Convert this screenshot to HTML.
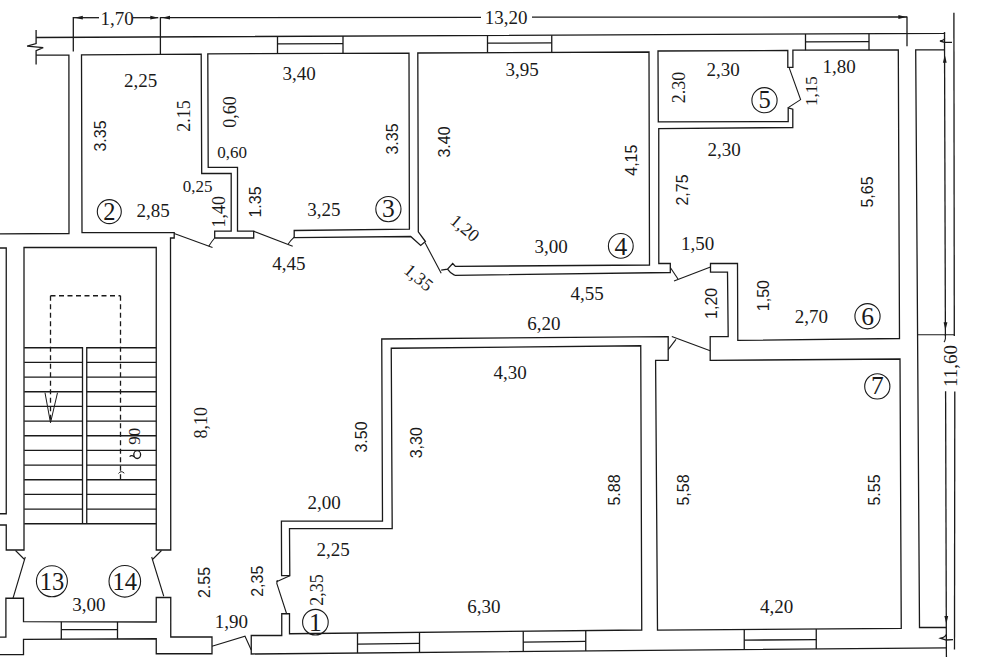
<!DOCTYPE html>
<html><head><meta charset="utf-8"><style>
html,body{margin:0;padding:0;background:#fff;width:1000px;height:667px;overflow:hidden}
svg{display:block}
</style></head><body>
<svg width="1000" height="667" viewBox="0 0 1000 667">
<rect width="1000" height="667" fill="#fff"/>
<line x1="73.30" y1="17.70" x2="99.00" y2="17.70" stroke="#1a1a1a" stroke-width="1.3"/>
<line x1="133.00" y1="17.70" x2="158.30" y2="17.70" stroke="#1a1a1a" stroke-width="1.3"/>
<line x1="160.40" y1="17.70" x2="481.00" y2="17.40" stroke="#1a1a1a" stroke-width="1.3"/>
<line x1="532.00" y1="17.20" x2="907.00" y2="17.00" stroke="#1a1a1a" stroke-width="1.3"/>
<line x1="73.30" y1="17.10" x2="73.30" y2="51.50" stroke="#1a1a1a" stroke-width="1.3"/>
<line x1="160.40" y1="17.10" x2="160.40" y2="54.50" stroke="#1a1a1a" stroke-width="1.3"/>
<line x1="907.00" y1="16.40" x2="907.00" y2="46.20" stroke="#1a1a1a" stroke-width="1.3"/>
<polygon points="74.80,17.70 82.80,15.80 82.80,19.60" fill="#1a1a1a" stroke="none"/>
<polygon points="158.30,17.70 150.30,19.60 150.30,15.80" fill="#1a1a1a" stroke="none"/>
<polygon points="162.00,17.70 170.00,15.80 170.00,19.60" fill="#1a1a1a" stroke="none"/>
<polygon points="906.40,17.00 898.40,18.90 898.40,15.10" fill="#1a1a1a" stroke="none"/>
<g transform="translate(117.00,18.50) rotate(0)"><text x="0" y="6.27" text-anchor="middle" font-family='"Liberation Serif", serif' font-size="19" fill="#1a1a1a">1,70</text></g>
<g transform="translate(506.00,17.50) rotate(0)"><text x="0" y="6.27" text-anchor="middle" font-family='"Liberation Serif", serif' font-size="19" fill="#1a1a1a">13,20</text></g>
<path d="M36.1,30.1 V43.6 L27.1,46.2 L43.2,47.6 L36.1,50.7 V64.6" fill="none" stroke="#1a1a1a" stroke-width="1.3"/>
<polyline points="36.10,37.50 944.50,33.40 944.50,32.20" fill="none" stroke="#1a1a1a" stroke-width="1.3" stroke-linejoin="miter"/>
<polyline points="36.10,55.20 68.90,55.20 69.00,233.50 0.00,233.90" fill="none" stroke="#1a1a1a" stroke-width="1.3" stroke-linejoin="miter"/>
<polyline points="214.70,238.00 214.70,231.20 231.20,231.20 231.20,173.50 201.70,173.50 201.20,54.20 81.50,54.90 82.00,232.70 174.20,232.70 174.20,238.00 170.50,238.00 170.75,550.00 156.25,550.00 156.25,247.50 24.00,247.50 24.00,550.00 6.25,550.00 6.25,525.00 0.00,525.00" fill="none" stroke="#1a1a1a" stroke-width="1.3" stroke-linejoin="miter"/>
<polyline points="0.00,248.00 6.25,248.00 6.25,513.75 0.00,513.75" fill="none" stroke="#1a1a1a" stroke-width="1.3" stroke-linejoin="miter"/>
<polyline points="214.70,238.00 253.70,238.00 253.70,231.20 237.50,231.20 237.50,167.30 208.20,167.30 207.80,53.80 409.00,53.20 409.40,229.20 294.20,230.50 294.20,237.70 410.70,236.50 420.70,245.40 425.40,241.50 418.30,231.80 417.80,53.00 649.00,52.00 649.50,265.00 455.40,266.40 452.70,263.50 447.50,269.10 441.20,270.10" fill="none" stroke="#1a1a1a" stroke-width="1.3" stroke-linejoin="miter"/>
<path d="M447.5,269.1 Q450,273 454.8,275.4" fill="none" stroke="#1a1a1a" stroke-width="1.2"/>
<polyline points="454.80,275.40 670.30,272.50 670.30,263.50 658.80,263.50 658.75,128.60 792.80,127.50 792.80,109.20 788.20,107.80 788.20,121.50 658.30,121.80 658.00,51.00 787.80,50.50 787.80,67.40 792.90,67.40 792.90,50.20 898.30,50.00 899.50,338.50 737.80,340.40 737.50,263.50 710.50,263.50 710.50,272.20 727.50,272.20 728.20,336.60 710.20,336.60 710.20,360.40 900.00,359.00 901.25,628.30 657.50,630.20 655.60,360.40 668.20,360.40 668.20,336.60 381.75,339.00 382.50,521.20 281.40,521.20 281.60,575.70 289.80,575.70 289.50,528.60 392.20,528.60 391.25,348.25 640.75,345.75 641.75,630.00 289.50,633.75 289.50,613.75 281.75,613.75 281.75,635.50 251.25,635.50 251.25,654.00 946.40,647.80" fill="none" stroke="#1a1a1a" stroke-width="1.3" stroke-linejoin="miter"/>
<polyline points="944.50,49.90 915.70,49.90 919.50,627.50 946.40,627.50" fill="none" stroke="#1a1a1a" stroke-width="1.3" stroke-linejoin="miter"/>
<line x1="944.50" y1="32.20" x2="945.40" y2="336.00" stroke="#1a1a1a" stroke-width="1.3"/>
<line x1="945.60" y1="391.30" x2="946.40" y2="657.00" stroke="#1a1a1a" stroke-width="1.3"/>
<line x1="953.90" y1="12.80" x2="954.30" y2="336.00" stroke="#1a1a1a" stroke-width="1.3"/>
<line x1="954.80" y1="391.50" x2="954.50" y2="649.50" stroke="#1a1a1a" stroke-width="1.3"/>
<polygon points="944.80,54.70 946.70,62.70 942.90,62.70" fill="#1a1a1a" stroke="none"/>
<polygon points="945.50,330.30 943.60,322.30 947.40,322.30" fill="#1a1a1a" stroke="none"/>
<polygon points="946.30,624.10 944.40,616.10 948.20,616.10" fill="#1a1a1a" stroke="none"/>
<path d="M944.6,38.5 Q944.5,40 940,41 L944.6,42.3 L952,42.4" fill="none" stroke="#1a1a1a" stroke-width="1.3"/>
<path d="M946,634.5 Q946,636.8 940.6,638.2 L946.2,640 L953,639.6" fill="none" stroke="#1a1a1a" stroke-width="1.3"/>
<g transform="translate(950.90,366.00) rotate(-90)"><text x="0" y="6.27" text-anchor="middle" font-family='"Liberation Serif", serif' font-size="19" fill="#1a1a1a">11,60</text></g>
<line x1="917.10" y1="334.80" x2="954.70" y2="334.80" stroke="#1a1a1a" stroke-width="1.1"/>
<path d="M945.4,334.8 V338.6 Q945,341 944,342" fill="none" stroke="#1a1a1a" stroke-width="1.1"/>
<line x1="277.50" y1="36.41" x2="277.50" y2="53.59" stroke="#1a1a1a" stroke-width="1.3"/>
<line x1="343.00" y1="36.11" x2="343.00" y2="53.40" stroke="#1a1a1a" stroke-width="1.3"/>
<line x1="277.50" y1="43.80" x2="343.00" y2="43.55" stroke="#1a1a1a" stroke-width="1.3"/>
<line x1="487.50" y1="35.46" x2="487.50" y2="52.70" stroke="#1a1a1a" stroke-width="1.3"/>
<line x1="551.75" y1="35.17" x2="551.75" y2="52.42" stroke="#1a1a1a" stroke-width="1.3"/>
<line x1="487.50" y1="43.22" x2="551.75" y2="42.93" stroke="#1a1a1a" stroke-width="1.3"/>
<line x1="805.50" y1="34.03" x2="805.50" y2="50.18" stroke="#1a1a1a" stroke-width="1.3"/>
<line x1="869.00" y1="33.74" x2="869.00" y2="50.06" stroke="#1a1a1a" stroke-width="1.3"/>
<line x1="805.50" y1="41.78" x2="869.00" y2="41.57" stroke="#1a1a1a" stroke-width="1.3"/>
<line x1="61.30" y1="639.14" x2="61.30" y2="621.79" stroke="#1a1a1a" stroke-width="1.3"/>
<line x1="117.50" y1="638.91" x2="117.50" y2="621.91" stroke="#1a1a1a" stroke-width="1.3"/>
<line x1="61.30" y1="629.60" x2="117.50" y2="629.56" stroke="#1a1a1a" stroke-width="1.3"/>
<line x1="357.50" y1="653.05" x2="357.50" y2="633.03" stroke="#1a1a1a" stroke-width="1.3"/>
<line x1="419.50" y1="652.50" x2="419.50" y2="632.37" stroke="#1a1a1a" stroke-width="1.3"/>
<line x1="357.50" y1="644.04" x2="419.50" y2="643.44" stroke="#1a1a1a" stroke-width="1.3"/>
<line x1="523.25" y1="651.57" x2="523.25" y2="631.26" stroke="#1a1a1a" stroke-width="1.3"/>
<line x1="585.75" y1="651.02" x2="585.75" y2="630.60" stroke="#1a1a1a" stroke-width="1.3"/>
<line x1="523.25" y1="642.03" x2="585.75" y2="641.42" stroke="#1a1a1a" stroke-width="1.3"/>
<line x1="744.25" y1="649.60" x2="744.25" y2="629.52" stroke="#1a1a1a" stroke-width="1.3"/>
<line x1="816.25" y1="648.96" x2="816.25" y2="628.96" stroke="#1a1a1a" stroke-width="1.3"/>
<line x1="744.25" y1="640.17" x2="816.25" y2="639.56" stroke="#1a1a1a" stroke-width="1.3"/>
<polyline points="24.25,347.75 82.50,347.75 82.50,523.75" fill="none" stroke="#1a1a1a" stroke-width="1.3" stroke-linejoin="miter"/>
<polyline points="86.75,523.75 86.75,347.75 156.25,347.75" fill="none" stroke="#1a1a1a" stroke-width="1.3" stroke-linejoin="miter"/>
<line x1="24.25" y1="523.75" x2="156.25" y2="523.75" stroke="#1a1a1a" stroke-width="1.3"/>
<line x1="24.25" y1="362.42" x2="82.50" y2="362.42" stroke="#1a1a1a" stroke-width="1.3"/>
<line x1="86.75" y1="362.42" x2="156.25" y2="362.42" stroke="#1a1a1a" stroke-width="1.3"/>
<line x1="24.25" y1="377.08" x2="82.50" y2="377.08" stroke="#1a1a1a" stroke-width="1.3"/>
<line x1="86.75" y1="377.08" x2="156.25" y2="377.08" stroke="#1a1a1a" stroke-width="1.3"/>
<line x1="24.25" y1="391.75" x2="82.50" y2="391.75" stroke="#1a1a1a" stroke-width="1.3"/>
<line x1="86.75" y1="391.75" x2="156.25" y2="391.75" stroke="#1a1a1a" stroke-width="1.3"/>
<line x1="24.25" y1="406.42" x2="82.50" y2="406.42" stroke="#1a1a1a" stroke-width="1.3"/>
<line x1="86.75" y1="406.42" x2="156.25" y2="406.42" stroke="#1a1a1a" stroke-width="1.3"/>
<line x1="24.25" y1="421.08" x2="82.50" y2="421.08" stroke="#1a1a1a" stroke-width="1.3"/>
<line x1="86.75" y1="421.08" x2="156.25" y2="421.08" stroke="#1a1a1a" stroke-width="1.3"/>
<line x1="24.25" y1="435.75" x2="82.50" y2="435.75" stroke="#1a1a1a" stroke-width="1.3"/>
<line x1="86.75" y1="435.75" x2="156.25" y2="435.75" stroke="#1a1a1a" stroke-width="1.3"/>
<line x1="24.25" y1="450.42" x2="82.50" y2="450.42" stroke="#1a1a1a" stroke-width="1.3"/>
<line x1="86.75" y1="450.42" x2="156.25" y2="450.42" stroke="#1a1a1a" stroke-width="1.3"/>
<line x1="24.25" y1="465.09" x2="82.50" y2="465.09" stroke="#1a1a1a" stroke-width="1.3"/>
<line x1="86.75" y1="465.09" x2="156.25" y2="465.09" stroke="#1a1a1a" stroke-width="1.3"/>
<line x1="24.25" y1="479.75" x2="82.50" y2="479.75" stroke="#1a1a1a" stroke-width="1.3"/>
<line x1="86.75" y1="479.75" x2="156.25" y2="479.75" stroke="#1a1a1a" stroke-width="1.3"/>
<line x1="24.25" y1="494.42" x2="82.50" y2="494.42" stroke="#1a1a1a" stroke-width="1.3"/>
<line x1="86.75" y1="494.42" x2="156.25" y2="494.42" stroke="#1a1a1a" stroke-width="1.3"/>
<line x1="24.25" y1="509.09" x2="82.50" y2="509.09" stroke="#1a1a1a" stroke-width="1.3"/>
<line x1="86.75" y1="509.09" x2="156.25" y2="509.09" stroke="#1a1a1a" stroke-width="1.3"/>
<line x1="50.50" y1="295.75" x2="120.50" y2="295.75" stroke="#1a1a1a" stroke-width="1.3" stroke-dasharray="5,3.5"/>
<line x1="50.50" y1="295.75" x2="50.50" y2="422.75" stroke="#1a1a1a" stroke-width="1.3" stroke-dasharray="5,3.5"/>
<line x1="120.50" y1="295.75" x2="120.50" y2="481.50" stroke="#1a1a1a" stroke-width="1.3" stroke-dasharray="5,3.5"/>
<polyline points="45.00,392.75 50.50,422.75 57.50,392.75" fill="none" stroke="#1a1a1a" stroke-width="1.0" stroke-linejoin="miter"/>
<polyline points="0.00,637.10 5.90,637.10 5.90,598.25 23.50,598.25 23.50,621.70 156.25,622.00 156.25,597.50 170.75,597.50 170.75,637.00 212.00,637.00 212.00,653.75 156.25,653.75 156.25,638.75 23.50,639.30 23.50,654.60 0.00,654.60" fill="none" stroke="#1a1a1a" stroke-width="1.3" stroke-linejoin="miter"/>
<path d="M15.5,550.5 L24.5,559.5 M25.3,557 L23.8,562 L13,598.25" fill="none" stroke="#1a1a1a" stroke-width="1.1"/>
<path d="M161.5,550.5 L152.5,559.5 M151.7,557 L153.2,562 L163.75,596.25" fill="none" stroke="#1a1a1a" stroke-width="1.1"/>
<path d="M212,646.25 L245,636.25 L251.25,650" fill="none" stroke="#1a1a1a" stroke-width="1.1"/>
<path d="M174.2,233.5 L212.5,247.4" fill="none" stroke="#1a1a1a" stroke-width="1.1"/>
<path d="M214.7,238 Q212,241 208.7,246.2" fill="none" stroke="#1a1a1a" stroke-width="1.1"/>
<path d="M253.7,231.2 L292.7,246.2" fill="none" stroke="#1a1a1a" stroke-width="1.1"/>
<path d="M294.2,237.2 Q291,240 288.2,244" fill="none" stroke="#1a1a1a" stroke-width="1.1"/>
<path d="M424.9,242.5 L441.2,273.3" fill="none" stroke="#1a1a1a" stroke-width="1.1"/>
<path d="M670.3,267.5 L678,279" fill="none" stroke="#1a1a1a" stroke-width="1.1"/>
<path d="M674,281 L710.5,267" fill="none" stroke="#1a1a1a" stroke-width="1.1"/>
<path d="M668.2,349.6 L676,339.4" fill="none" stroke="#1a1a1a" stroke-width="1.1"/>
<path d="M671.8,336.4 L710.2,350.8" fill="none" stroke="#1a1a1a" stroke-width="1.1"/>
<path d="M788.2,107.6 L800.6,99.6 L789.3,68.1" fill="none" stroke="#1a1a1a" stroke-width="1.1"/>
<path d="M289.8,575.7 L276.5,581.7" fill="none" stroke="#1a1a1a" stroke-width="1.1"/>
<path d="M277.3,580 L276.8,583.5 L286.7,614" fill="none" stroke="#1a1a1a" stroke-width="1.1"/>
<g transform="translate(140.50,81.00) rotate(0)"><text x="0" y="6.27" text-anchor="middle" font-family='"Liberation Serif", serif' font-size="19" fill="#1a1a1a">2,25</text></g>
<g transform="translate(100.60,136.00) rotate(-90)"><text x="0" y="5.76" text-anchor="middle" font-family='"Liberation Sans", sans-serif' font-size="16" fill="#1a1a1a">3.35</text></g>
<g transform="translate(184.20,116.00) rotate(-90)"><text x="0" y="5.94" text-anchor="middle" font-family='"Liberation Serif", serif' font-size="18" fill="#1a1a1a">2.15</text></g>
<g transform="translate(230.20,112.00) rotate(-90)"><text x="0" y="5.94" text-anchor="middle" font-family='"Liberation Serif", serif' font-size="18" fill="#1a1a1a">0,60</text></g>
<g transform="translate(232.00,152.40) rotate(0)"><text x="0" y="5.61" text-anchor="middle" font-family='"Liberation Serif", serif' font-size="17" fill="#1a1a1a">0,60</text></g>
<g transform="translate(299.00,74.00) rotate(0)"><text x="0" y="6.27" text-anchor="middle" font-family='"Liberation Serif", serif' font-size="19" fill="#1a1a1a">3,40</text></g>
<g transform="translate(392.50,139.00) rotate(-90)"><text x="0" y="5.76" text-anchor="middle" font-family='"Liberation Sans", sans-serif' font-size="16" fill="#1a1a1a">3.35</text></g>
<g transform="translate(444.00,142.00) rotate(-90)"><text x="0" y="5.76" text-anchor="middle" font-family='"Liberation Sans", sans-serif' font-size="16" fill="#1a1a1a">3.40</text></g>
<g transform="translate(522.00,70.00) rotate(0)"><text x="0" y="6.27" text-anchor="middle" font-family='"Liberation Serif", serif' font-size="19" fill="#1a1a1a">3,95</text></g>
<g transform="translate(723.00,70.00) rotate(0)"><text x="0" y="6.27" text-anchor="middle" font-family='"Liberation Serif", serif' font-size="19" fill="#1a1a1a">2,30</text></g>
<g transform="translate(679.20,87.50) rotate(-90)"><text x="0" y="5.94" text-anchor="middle" font-family='"Liberation Serif", serif' font-size="18" fill="#1a1a1a">2.30</text></g>
<g transform="translate(724.00,150.00) rotate(0)"><text x="0" y="6.27" text-anchor="middle" font-family='"Liberation Serif", serif' font-size="19" fill="#1a1a1a">2,30</text></g>
<g transform="translate(630.90,160.20) rotate(-90)"><text x="0" y="5.76" text-anchor="middle" font-family='"Liberation Sans", sans-serif' font-size="16" fill="#1a1a1a">4,15</text></g>
<g transform="translate(839.00,67.00) rotate(0)"><text x="0" y="6.27" text-anchor="middle" font-family='"Liberation Serif", serif' font-size="19" fill="#1a1a1a">1,80</text></g>
<g transform="translate(811.00,91.00) rotate(-90)"><text x="0" y="5.61" text-anchor="middle" font-family='"Liberation Serif", serif' font-size="17" fill="#1a1a1a">1,15</text></g>
<circle cx="764.5" cy="100.2" r="12.6" fill="none" stroke="#1a1a1a" stroke-width="1.1"/>
<g transform="translate(764.50,100.20) rotate(0)"><text x="0" y="8.09" text-anchor="middle" font-family='"Liberation Serif", serif' font-size="24.5" fill="#1a1a1a">5</text></g>
<g transform="translate(197.50,186.20) rotate(0)"><text x="0" y="5.61" text-anchor="middle" font-family='"Liberation Serif", serif' font-size="17" fill="#1a1a1a">0,25</text></g>
<g transform="translate(153.00,211.00) rotate(0)"><text x="0" y="6.27" text-anchor="middle" font-family='"Liberation Serif", serif' font-size="19" fill="#1a1a1a">2,85</text></g>
<circle cx="109.3" cy="211.6" r="12" fill="none" stroke="#1a1a1a" stroke-width="1.1"/>
<g transform="translate(109.30,211.60) rotate(0)"><text x="0" y="8.09" text-anchor="middle" font-family='"Liberation Serif", serif' font-size="24.5" fill="#1a1a1a">2</text></g>
<g transform="translate(219.20,211.70) rotate(-90)"><text x="0" y="5.94" text-anchor="middle" font-family='"Liberation Serif", serif' font-size="18" fill="#1a1a1a">1,40</text></g>
<g transform="translate(255.20,202.00) rotate(-90)"><text x="0" y="5.76" text-anchor="middle" font-family='"Liberation Sans", sans-serif' font-size="16" fill="#1a1a1a">1.35</text></g>
<g transform="translate(323.75,209.50) rotate(0)"><text x="0" y="6.27" text-anchor="middle" font-family='"Liberation Serif", serif' font-size="19" fill="#1a1a1a">3,25</text></g>
<circle cx="388.4" cy="209.1" r="12.6" fill="none" stroke="#1a1a1a" stroke-width="1.1"/>
<g transform="translate(388.40,208.70) rotate(0)"><text x="0" y="8.42" text-anchor="middle" font-family='"Liberation Serif", serif' font-size="25.5" fill="#1a1a1a">3</text></g>
<g transform="translate(288.75,263.25) rotate(0)"><text x="0" y="6.27" text-anchor="middle" font-family='"Liberation Serif", serif' font-size="19" fill="#1a1a1a">4,45</text></g>
<g transform="translate(465.00,228.00) rotate(40)"><text x="0" y="5.94" text-anchor="middle" font-family='"Liberation Serif", serif' font-size="18" fill="#1a1a1a">1,20</text></g>
<g transform="translate(418.60,277.50) rotate(40)"><text x="0" y="5.94" text-anchor="middle" font-family='"Liberation Serif", serif' font-size="18" fill="#1a1a1a">1,35</text></g>
<g transform="translate(551.00,246.50) rotate(0)"><text x="0" y="6.27" text-anchor="middle" font-family='"Liberation Serif", serif' font-size="19" fill="#1a1a1a">3,00</text></g>
<circle cx="620.8" cy="245.9" r="12.4" fill="none" stroke="#1a1a1a" stroke-width="1.1"/>
<g transform="translate(620.80,246.70) rotate(0)"><text x="0" y="8.42" text-anchor="middle" font-family='"Liberation Serif", serif' font-size="25.5" fill="#1a1a1a">4</text></g>
<g transform="translate(682.50,190.00) rotate(-90)"><text x="0" y="5.76" text-anchor="middle" font-family='"Liberation Sans", sans-serif' font-size="16" fill="#1a1a1a">2,75</text></g>
<g transform="translate(697.50,244.00) rotate(0)"><text x="0" y="6.27" text-anchor="middle" font-family='"Liberation Serif", serif' font-size="19" fill="#1a1a1a">1,50</text></g>
<g transform="translate(587.00,293.25) rotate(0)"><text x="0" y="6.27" text-anchor="middle" font-family='"Liberation Serif", serif' font-size="19" fill="#1a1a1a">4,55</text></g>
<g transform="translate(543.75,323.25) rotate(0)"><text x="0" y="6.27" text-anchor="middle" font-family='"Liberation Serif", serif' font-size="19" fill="#1a1a1a">6,20</text></g>
<g transform="translate(711.00,303.40) rotate(-90)"><text x="0" y="5.76" text-anchor="middle" font-family='"Liberation Sans", sans-serif' font-size="16" fill="#1a1a1a">1,20</text></g>
<g transform="translate(867.50,192.00) rotate(-90)"><text x="0" y="5.76" text-anchor="middle" font-family='"Liberation Sans", sans-serif' font-size="16" fill="#1a1a1a">5,65</text></g>
<g transform="translate(763.70,295.60) rotate(-90)"><text x="0" y="5.76" text-anchor="middle" font-family='"Liberation Sans", sans-serif' font-size="16" fill="#1a1a1a">1,50</text></g>
<g transform="translate(811.25,317.00) rotate(0)"><text x="0" y="6.27" text-anchor="middle" font-family='"Liberation Serif", serif' font-size="19" fill="#1a1a1a">2,70</text></g>
<circle cx="867.5" cy="316.25" r="12.6" fill="none" stroke="#1a1a1a" stroke-width="1.1"/>
<g transform="translate(867.50,316.25) rotate(0)"><text x="0" y="8.42" text-anchor="middle" font-family='"Liberation Serif", serif' font-size="25.5" fill="#1a1a1a">6</text></g>
<g transform="translate(134.80,436.30) rotate(-90)"><text x="0" y="5.61" text-anchor="middle" font-family='"Liberation Serif", serif' font-size="17" fill="#1a1a1a">90</text></g>
<ellipse cx="137.2" cy="454.6" rx="3.4" ry="3.9" fill="none" stroke="#1a1a1a" stroke-width="1.3"/>
<path d="M129.6,456.6 Q131.5,454.5 134.3,456.8" fill="none" stroke="#1a1a1a" stroke-width="1.2"/>
<path d="M118.5,473.5 Q121,470 124.3,473.2" fill="none" stroke="#1a1a1a" stroke-width="1.0"/>
<g transform="translate(201.25,422.75) rotate(-90)"><text x="0" y="5.94" text-anchor="middle" font-family='"Liberation Serif", serif' font-size="18" fill="#1a1a1a">8,10</text></g>
<g transform="translate(361.25,437.00) rotate(-90)"><text x="0" y="5.76" text-anchor="middle" font-family='"Liberation Sans", sans-serif' font-size="16" fill="#1a1a1a">3.50</text></g>
<g transform="translate(416.25,442.75) rotate(-90)"><text x="0" y="5.76" text-anchor="middle" font-family='"Liberation Sans", sans-serif' font-size="16" fill="#1a1a1a">3,30</text></g>
<g transform="translate(324.20,502.80) rotate(0)"><text x="0" y="6.27" text-anchor="middle" font-family='"Liberation Serif", serif' font-size="19" fill="#1a1a1a">2,00</text></g>
<g transform="translate(510.00,372.75) rotate(0)"><text x="0" y="6.27" text-anchor="middle" font-family='"Liberation Serif", serif' font-size="19" fill="#1a1a1a">4,30</text></g>
<g transform="translate(614.00,490.00) rotate(-90)"><text x="0" y="5.76" text-anchor="middle" font-family='"Liberation Sans", sans-serif' font-size="16" fill="#1a1a1a">5.88</text></g>
<g transform="translate(683.00,490.00) rotate(-90)"><text x="0" y="5.76" text-anchor="middle" font-family='"Liberation Sans", sans-serif' font-size="16" fill="#1a1a1a">5,58</text></g>
<circle cx="877.3" cy="386.4" r="12.6" fill="none" stroke="#1a1a1a" stroke-width="1.1"/>
<g transform="translate(877.30,385.90) rotate(0)"><text x="0" y="8.42" text-anchor="middle" font-family='"Liberation Serif", serif' font-size="25.5" fill="#1a1a1a">7</text></g>
<g transform="translate(873.80,490.00) rotate(-90)"><text x="0" y="5.76" text-anchor="middle" font-family='"Liberation Sans", sans-serif' font-size="16" fill="#1a1a1a">5.55</text></g>
<circle cx="51.9" cy="581.3" r="15.5" fill="none" stroke="#1a1a1a" stroke-width="1.1"/>
<g transform="translate(51.90,582.10) rotate(0)"><text x="0" y="8.09" text-anchor="middle" font-family='"Liberation Serif", serif' font-size="24.5" fill="#1a1a1a">13</text></g>
<circle cx="124.8" cy="581.3" r="15.8" fill="none" stroke="#1a1a1a" stroke-width="1.1"/>
<g transform="translate(124.80,582.10) rotate(0)"><text x="0" y="8.09" text-anchor="middle" font-family='"Liberation Serif", serif' font-size="24.5" fill="#1a1a1a">14</text></g>
<g transform="translate(88.75,604.50) rotate(0)"><text x="0" y="6.27" text-anchor="middle" font-family='"Liberation Serif", serif' font-size="19" fill="#1a1a1a">3,00</text></g>
<g transform="translate(203.75,582.50) rotate(-90)"><text x="0" y="5.76" text-anchor="middle" font-family='"Liberation Sans", sans-serif' font-size="16" fill="#1a1a1a">2.55</text></g>
<g transform="translate(231.25,621.25) rotate(0)"><text x="0" y="6.27" text-anchor="middle" font-family='"Liberation Serif", serif' font-size="19" fill="#1a1a1a">1,90</text></g>
<g transform="translate(333.00,549.25) rotate(0)"><text x="0" y="6.27" text-anchor="middle" font-family='"Liberation Serif", serif' font-size="19" fill="#1a1a1a">2,25</text></g>
<g transform="translate(317.50,590.00) rotate(-90)"><text x="0" y="5.94" text-anchor="middle" font-family='"Liberation Serif", serif' font-size="18" fill="#1a1a1a">2,35</text></g>
<g transform="translate(257.50,581.25) rotate(-90)"><text x="0" y="5.76" text-anchor="middle" font-family='"Liberation Sans", sans-serif' font-size="16" fill="#1a1a1a">2,35</text></g>
<circle cx="315.4" cy="622.2" r="12.8" fill="none" stroke="#1a1a1a" stroke-width="1.1"/>
<g transform="translate(315.40,622.20) rotate(0)"><text x="0" y="8.42" text-anchor="middle" font-family='"Liberation Serif", serif' font-size="25.5" fill="#1a1a1a">1</text></g>
<g transform="translate(483.75,606.25) rotate(0)"><text x="0" y="6.27" text-anchor="middle" font-family='"Liberation Serif", serif' font-size="19" fill="#1a1a1a">6,30</text></g>
<g transform="translate(776.50,606.25) rotate(0)"><text x="0" y="6.27" text-anchor="middle" font-family='"Liberation Serif", serif' font-size="19" fill="#1a1a1a">4,20</text></g>
</svg></body></html>
